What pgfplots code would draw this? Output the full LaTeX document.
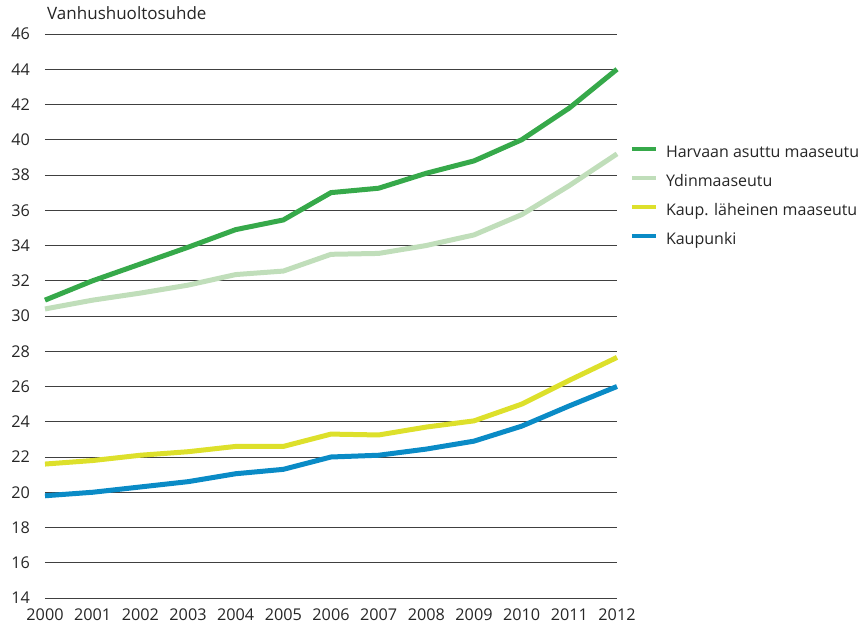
\documentclass[border=0pt]{standalone}
\usepackage{fontspec}
\setmainfont{Open Sans}
\usepackage{pgfplots}
\pgfplotsset{compat=1.18}
\definecolor{cdark}{HTML}{36A94A}
\definecolor{clight}{HTML}{C0DEBA}
\definecolor{cyel}{HTML}{DDE02B}
\definecolor{cblue}{HTML}{0A8BC6}
\begin{document}
\begin{tikzpicture}[x=1pt,y=1pt]
\useasboundingbox (-45,-26) rectangle (814,598);
\begin{axis}[
  at={(0,0)}, anchor=south west,
  scale only axis, width=572pt, height=564pt,
  xmin=2000, xmax=2012, ymin=14, ymax=46,
  xtick={2000,2001,...,2012}, ytick={14,16,...,46},
  axis line style={draw=none},
  major tick length=0pt,
  ymajorgrids, grid style={black!75, line width=0.9pt},
  clip=false,
  /pgf/number format/assume math mode=true,
  x tick label style={/pgf/number format/1000 sep={}, inner sep=0pt, anchor=north, yshift=-10.5pt},
  y tick label style={inner sep=0pt, anchor=east, xshift=-15pt},
  tick label style={font=\fontsize{16.2}{18}\selectfont, text=black!85},
  title={Vanhushuoltosuhde},
  title style={at={(0,1)}, anchor=base west, yshift=8pt, xshift=2pt, inner sep=0pt, font=\fontsize{17}{18}\selectfont, text=black!85},
  legend cell align=left,
  legend style={at={(1.0215,0.802)}, anchor=north west, draw=none, fill=none, inner sep=0pt,
    font=\fontsize{16}{18}\selectfont, text=black!85, row sep=13pt, column sep=8pt,
    nodes={inner sep=0pt, text height=12pt, text depth=4pt}},
  legend image code/.code={\draw[#1, line width=4.5pt] (0pt,5pt) -- (24pt,5pt);},
]
\addplot[cdark, line width=5pt] coordinates {
(2000,30.9) (2001,32.0) (2002,32.95) (2003,33.9) (2004,34.9) (2005,35.45) (2006,37.0)
(2007,37.25) (2008,38.1) (2009,38.8) (2010,40.0) (2011,41.8) (2012,44.0)};
\addlegendentry{Harvaan asuttu maaseutu}
\addplot[clight, line width=5pt] coordinates {
(2000,30.4) (2001,30.9) (2002,31.3) (2003,31.75) (2004,32.35) (2005,32.55) (2006,33.5)
(2007,33.55) (2008,34.0) (2009,34.6) (2010,35.75) (2011,37.4) (2012,39.2)};
\addlegendentry{Ydinmaaseutu}
\addplot[cyel, line width=5pt] coordinates {
(2000,21.6) (2001,21.8) (2002,22.1) (2003,22.3) (2004,22.6) (2005,22.6) (2006,23.3)
(2007,23.25) (2008,23.7) (2009,24.05) (2010,25.0) (2011,26.35) (2012,27.65)};
\addlegendentry{Kaup. läheinen maaseutu}
\addplot[cblue, line width=5pt] coordinates {
(2000,19.8) (2001,20.0) (2002,20.3) (2003,20.6) (2004,21.05) (2005,21.3) (2006,22.0)
(2007,22.1) (2008,22.45) (2009,22.9) (2010,23.75) (2011,24.9) (2012,26.0)};
\addlegendentry{Kaupunki}
\end{axis}
\end{tikzpicture}
\end{document}
